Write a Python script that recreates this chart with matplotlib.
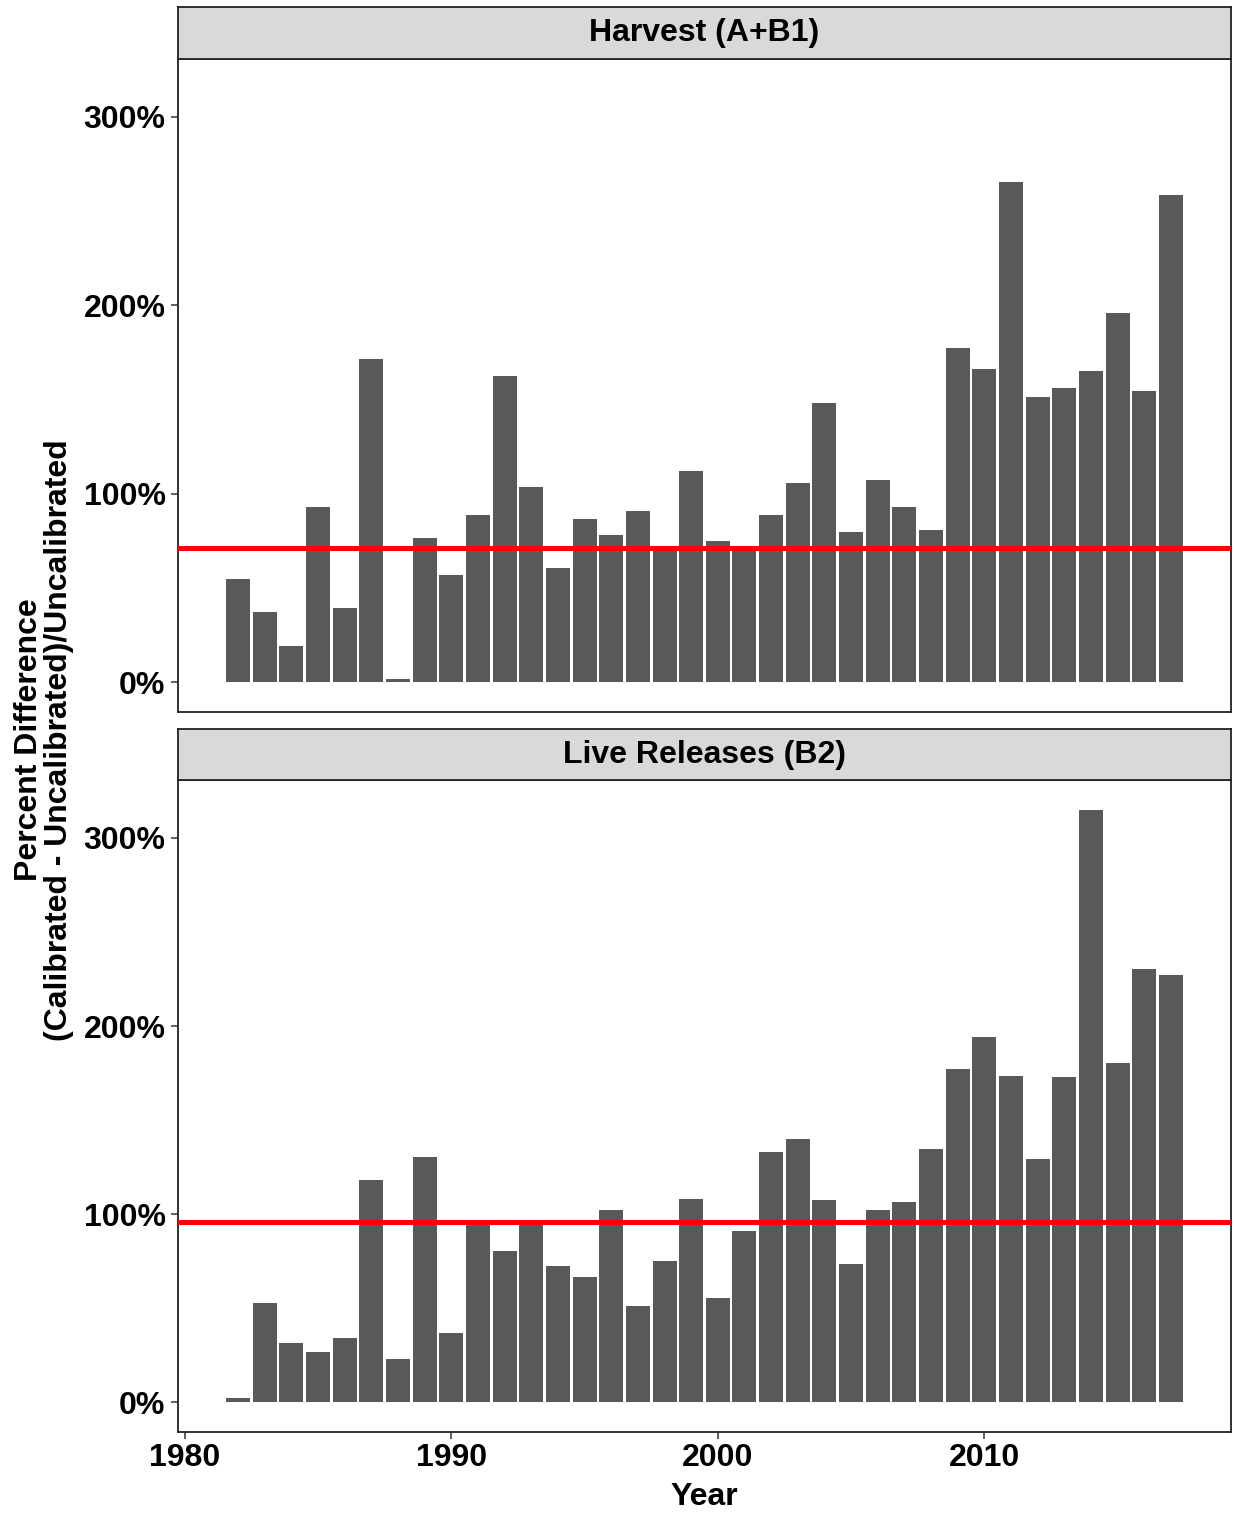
import matplotlib
matplotlib.use("Agg")
import matplotlib.pyplot as plt

plt.rcParams['font.family'] = ['Liberation Sans', 'DejaVu Sans']
plt.rcParams['font.weight'] = 'bold'

years = list(range(1982, 2018))

harvest = [54.6, 37.3, 19.4, 93.1, 39.4, 171.7, 1.7, 76.8, 57.2, 88.8,
           162.7, 103.5, 60.7, 86.5, 78.2, 91.0, 70.5, 112.0, 74.8, 70.5,
           89.0, 105.6, 148.0, 80.0, 107.4, 92.9, 80.9, 177.3, 166.0, 265.3,
           151.3, 156.0, 165.3, 195.9, 154.4, 258.6]

releases = [2.4, 52.7, 31.3, 26.5, 34.0, 118.4, 23.2, 130.4, 36.8, 95.8,
            80.7, 95.8, 72.4, 66.5, 102.4, 51.3, 74.9, 108.1, 55.2, 91.3,
            132.9, 140.0, 107.8, 73.6, 102.0, 106.7, 134.5, 176.9, 194.0, 173.4,
            129.3, 172.9, 314.8, 180.6, 230.5, 227.0]

harvest_mean = 71.5
releases_mean = 96.0

panel_titles = ["Harvest (A+B1)", "Live Releases (B2)"]
y_ticks = [0, 100, 200, 300]
y_tick_labels = ["0%", "100%", "200%", "300%"]
x_ticks = [1980, 1990, 2000, 2010]

W, H = 1235, 1513
fig = plt.figure(figsize=(W / 100, H / 100), dpi=100)

FS = 23
left = 178 / W
width = 1053 / W
panels = [
    (59, 712, 7),    # axes top, axes bottom, strip top (pixels)
    (780, 1432, 729),
]
series = [(harvest, harvest_mean), (releases, releases_mean)]

bar_color = '#595959'
ymin, ymax = -15.75, 330.75
xmin, xmax = 1979.755, 2019.245

for i, ((top, bot, stop), (vals, mean), title) in enumerate(zip(panels, series, panel_titles)):
    ax = fig.add_axes([left, 1 - bot / H, width, (bot - top) / H])
    ax.bar(years, vals, width=0.9, color=bar_color, linewidth=0, zorder=2)
    ax.axhline(mean, color='#ff0000', lw=3.6, zorder=3)
    ax.set_xlim(xmin, xmax)
    ax.set_ylim(ymin, ymax)
    ax.set_yticks(y_ticks)
    ax.set_yticklabels(y_tick_labels)
    ax.tick_params(axis='y', length=5, width=1.1, color='#333333', labelsize=FS,
                   labelcolor='black', pad=4)
    for lab in ax.get_yticklabels():
        lab.set_fontweight('bold')
    if i == 0:
        ax.set_xticks([])
    else:
        ax.set_xticks(x_ticks)
        ax.set_xticklabels([str(x) for x in x_ticks])
        ax.tick_params(axis='x', length=5, width=1.1, color='#333333', labelsize=FS,
                       labelcolor='black', pad=3)
        for lab in ax.get_xticklabels():
            lab.set_fontweight('bold')
    for s in ax.spines.values():
        s.set_color('#222222')
        s.set_linewidth(1.3)
    # strip
    sax = fig.add_axes([left, 1 - top / H, width, (top - stop) / H])
    sax.set_xticks([])
    sax.set_yticks([])
    sax.set_facecolor('#d9d9d9')
    for s in sax.spines.values():
        s.set_color('#222222')
        s.set_linewidth(1.3)
    sax.text(0.5, 0.5, title, transform=sax.transAxes, ha='center', va='center',
             fontsize=FS, fontweight='bold', color='black')

fig.text(44 / W, 1 - 740 / H,
         "Percent Difference\n(Calibrated - Uncalibrated)/Uncalibrated",
         rotation=90, ha='center', va='center', fontsize=FS, fontweight='bold',
         linespacing=1.0, multialignment='center')
fig.text((178 + 1231) / 2 / W, 1 - 1497 / H, "Year", ha='center', va='center',
         fontsize=FS, fontweight='bold')

fig.savefig("out.png", dpi=100, facecolor='white')
